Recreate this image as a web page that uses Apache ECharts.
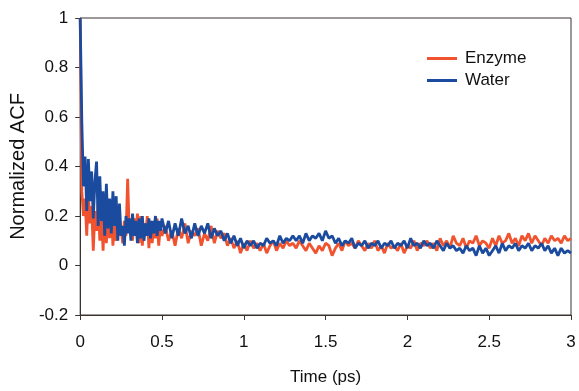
<!DOCTYPE html>
<html>
<head>
<meta charset="utf-8">
<script src="https://cdn.jsdelivr.net/npm/echarts@6/dist/echarts.min.js"></script>
<style>
  html, body { margin: 0; padding: 0; background: #fff; }
  #acf-chart { width: 579px; height: 391px; }
</style>
</head>
<body>
<div id="acf-chart"></div>
<script>
// time steps: 0.01 ps up to 0.5 ps, then 0.02 ps up to 3 ps
const earlyStep = 0.01
const lateStep = 0.02
const lateStart = 0.52

const enzymeEarly = [
  1.00, 0.30, 0.20, 0.27, 0.12, 0.29, 0.17, 0.24, 0.06, 0.22,
  0.14, 0.26, 0.10, 0.20, 0.06, 0.24, 0.09, 0.21, 0.11, 0.23,
  0.08, 0.17, 0.10, 0.19, 0.12, 0.15, 0.09, 0.18, 0.12, 0.35,
  0.14, 0.18, 0.10, 0.19, 0.13, 0.21, 0.09, 0.20, 0.08, 0.17,
  0.12, 0.20, 0.07, 0.18, 0.09, 0.16, 0.11, 0.19, 0.08, 0.16,
  0.12
]
const enzymeLate = [
  0.16, 0.10, 0.14, 0.08, 0.15, 0.11, 0.17, 0.09, 0.14, 0.12,
  0.15, 0.08, 0.13, 0.10, 0.16, 0.09, 0.14, 0.11, 0.13, 0.08,
  0.11, 0.07, 0.10, 0.05, 0.09, 0.06, 0.10, 0.07, 0.09, 0.06,
  0.09, 0.05, 0.08, 0.10, 0.06, 0.09, 0.07, 0.10, 0.08, 0.09,
  0.07, 0.10, 0.08, 0.06, 0.09, 0.07, 0.05, 0.08, 0.06, 0.09,
  0.08, 0.04, 0.07, 0.09, 0.06, 0.10, 0.08, 0.09, 0.07, 0.10,
  0.08, 0.06, 0.09, 0.07, 0.10, 0.06, 0.08, 0.05, 0.09, 0.07,
  0.08, 0.06, 0.09, 0.05, 0.08, 0.07, 0.10, 0.06, 0.09, 0.08,
  0.10, 0.07, 0.09, 0.06, 0.11, 0.08, 0.10, 0.07, 0.12, 0.09,
  0.08, 0.11, 0.07, 0.10, 0.09, 0.12, 0.08, 0.10, 0.09, 0.07,
  0.11, 0.08, 0.12, 0.09, 0.10, 0.13, 0.09, 0.11, 0.08, 0.12,
  0.10, 0.13, 0.09, 0.12, 0.10, 0.08, 0.11, 0.09, 0.12, 0.10,
  0.11, 0.09, 0.12, 0.10, 0.11
]

const waterEarly = [
  1.00, 0.58, 0.32, 0.44, 0.22, 0.43, 0.26, 0.38, 0.19, 0.34,
  0.42, 0.16, 0.36, 0.18, 0.30, 0.12, 0.33, 0.15, 0.27, 0.13,
  0.30, 0.16, 0.28, 0.10, 0.25, 0.12, 0.16, 0.08, 0.20, 0.13,
  0.19, 0.10, 0.21, 0.12, 0.18, 0.09, 0.19, 0.11, 0.20, 0.10,
  0.17, 0.12, 0.19, 0.11, 0.18, 0.13, 0.20, 0.12, 0.18, 0.14,
  0.19
]
const waterLate = [
  0.13, 0.18, 0.11, 0.17, 0.12, 0.19, 0.13, 0.16, 0.11, 0.17,
  0.12, 0.16, 0.13, 0.17, 0.11, 0.15, 0.12, 0.14, 0.10, 0.13,
  0.09, 0.12, 0.08, 0.11, 0.07, 0.10, 0.08, 0.10, 0.07, 0.09,
  0.08, 0.11, 0.09, 0.10, 0.08, 0.12, 0.09, 0.11, 0.10, 0.12,
  0.10, 0.12, 0.09, 0.13, 0.10, 0.12, 0.11, 0.13, 0.10, 0.14,
  0.11, 0.12, 0.09, 0.11, 0.08, 0.10, 0.09, 0.11, 0.07, 0.09,
  0.08, 0.10, 0.07, 0.09, 0.08, 0.10, 0.07, 0.09, 0.08, 0.10,
  0.07, 0.09, 0.08, 0.10, 0.07, 0.11, 0.08, 0.09, 0.07, 0.10,
  0.08, 0.09, 0.07, 0.10, 0.08, 0.06, 0.09, 0.07, 0.08, 0.06,
  0.07, 0.05, 0.08, 0.06, 0.07, 0.04, 0.08, 0.05, 0.07, 0.04,
  0.06, 0.08, 0.05, 0.09, 0.06, 0.08, 0.07, 0.09, 0.06, 0.08,
  0.07, 0.09, 0.06, 0.08, 0.07, 0.09, 0.06, 0.08, 0.05, 0.07,
  0.04, 0.07, 0.05, 0.06, 0.05
]

const yTicks = ['-0.2', '0', '0.2', '0.4', '0.6', '0.8', '1']

function toPairs (early, late) {
  const pts = early.map((v, i) => [+(i * earlyStep).toFixed(2), v])
  late.forEach((v, i) => {
    pts.push([+(lateStart + i * lateStep).toFixed(2), v])
  })
  return pts
}

const axisColor = '#3b3330'
const font = 'Liberation Sans, Arial, sans-serif'

const chart = echarts.init(document.getElementById('acf-chart'))
chart.setOption({
  animation: false,
  textStyle: { fontFamily: font },
  grid: {
    left: 80,
    right: 8,
    top: 18,
    bottom: 72,
    show: true,
    borderColor: axisColor,
    borderWidth: 1
  },
  legend: {
    orient: 'vertical',
    left: 422,
    top: 45,
    itemWidth: 30,
    itemHeight: 3,
    itemGap: 5,
    icon: 'rect',
    textStyle: { fontSize: 17, color: '#111', fontFamily: font, padding: [0, 0, 0, 3] },
    data: ['Enzyme', 'Water']
  },
  xAxis: {
    type: 'value',
    min: 0,
    max: 3,
    interval: 0.5,
    name: 'Time (ps)',
    nameLocation: 'middle',
    nameGap: 54,
    nameTextStyle: { fontSize: 17, color: '#111', fontFamily: font },
    axisLine: { onZero: false, lineStyle: { color: axisColor, width: 1 } },
    axisTick: { lineStyle: { color: axisColor }, length: 5 },
    axisLabel: { fontSize: 17, color: '#111', margin: 19 },
    splitLine: { show: false }
  },
  yAxis: {
    type: 'value',
    min: -0.2,
    max: 1,
    interval: 0.2,
    name: 'Normalized ACF',
    nameLocation: 'middle',
    nameGap: 50,
    nameTextStyle: { fontSize: 20, color: '#111', fontFamily: font },
    axisLine: { show: true, onZero: false, lineStyle: { color: axisColor, width: 1 } },
    axisTick: { show: true, lineStyle: { color: axisColor }, length: 5 },
    axisLabel: {
      fontSize: 17,
      color: '#111',
      margin: 12,
      formatter: (v) => yTicks[Math.round((v + 0.2) / 0.2)]
    },
    splitLine: { show: false }
  },
  series: [
    {
      name: 'Enzyme',
      type: 'line',
      data: toPairs(enzymeEarly, enzymeLate),
      showSymbol: false,
      symbol: 'none',
      color: '#f2532f',
      lineStyle: { width: 2.8, color: '#f2532f' }
    },
    {
      name: 'Water',
      type: 'line',
      data: toPairs(waterEarly, waterLate),
      showSymbol: false,
      symbol: 'none',
      color: '#1b4b9e',
      lineStyle: { width: 2.8, color: '#1b4b9e' }
    }
  ]
})
</script>
</body>
</html>
